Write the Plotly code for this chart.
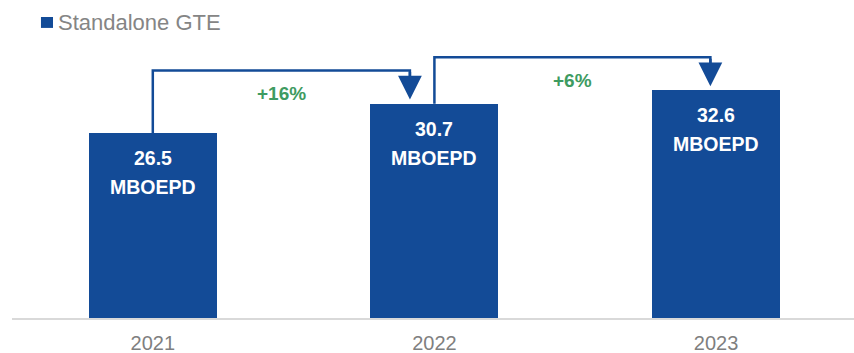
import plotly.graph_objects as go

# Standalone GTE production by year (MBOEPD)
years = ["2021", "2022", "2023"]
production = [26.5, 30.7, 32.6]
unit_label = "MBOEPD"
series_name = "Standalone GTE"

BLUE = "#134B97"
GREEN = "#3E9B61"
GREY_TEXT = "#858585"
FONT = "Arial, Liberation Sans, sans-serif"

positions = list(range(len(years)))

fig = go.Figure()
fig.add_trace(go.Bar(
    x=positions, y=production, width=0.455,
    marker=dict(color=BLUE, line=dict(width=0)),
    name=series_name, showlegend=False, hoverinfo="skip",
))

annotations = []

# value + unit labels inside the top of each bar
for xpos, val in zip(positions, production):
    annotations.append(dict(
        x=xpos, y=val, xref="x", yref="y", text=f"<b>{val:.1f}</b>",
        showarrow=False, yanchor="middle", yshift=-25,
        font=dict(family=FONT, size=19.5, color="white"),
    ))
    annotations.append(dict(
        x=xpos, y=val, xref="x", yref="y", text=f"<b>{unit_label}</b>",
        showarrow=False, yanchor="middle", yshift=-54,
        font=dict(family=FONT, size=19.5, color="white"),
    ))

# elbow connectors showing year-over-year growth
bracket_rise = 4.75        # height of connector above the taller bar
end_inset = [0.087, 0.02]  # how far the arrow lands left of the next bar's centre
tip_gap = 0.6              # gap between arrow tip and bar top
for i in range(len(production) - 1):
    v0, v1 = production[i], production[i + 1]
    top = max(v0, v1) + bracket_rise
    x0 = positions[i]
    x1 = positions[i + 1] - end_inset[i]
    tip = v1 + tip_gap
    fig.add_trace(go.Scatter(
        x=[x0, x0, x1, x1], y=[v0, top, top, tip + 2.0],
        mode="lines", line=dict(color=BLUE, width=2.5),
        showlegend=False, hoverinfo="skip",
    ))
    annotations.append(dict(
        x=x1, y=tip, ax=x1, ay=top, xref="x", yref="y", axref="x", ayref="y",
        text="", showarrow=True, arrowhead=2, arrowsize=1.9, arrowwidth=2.5,
        arrowcolor=BLUE, standoff=0, startstandoff=0,
    ))
    growth = (v1 / v0 - 1) * 100
    annotations.append(dict(
        x=(x0 + x1) / 2, y=top, xref="x", yref="y",
        text=f"<b>+{growth:.0f}%</b>", showarrow=False,
        yanchor="middle", yshift=-23,
        font=dict(family=FONT, size=19, color=GREEN),
    ))

# legend label
annotations.append(dict(
    x=0.0523, y=1.057, xref="paper", yref="paper", text=series_name,
    showarrow=False, xanchor="left", yanchor="middle",
    font=dict(family=FONT, size=22, color=GREY_TEXT),
))

fig.update_layout(
    width=854, height=353,
    margin=dict(l=12, r=0, t=38, b=35),
    paper_bgcolor="white", plot_bgcolor="white",
    bargap=0,
    annotations=annotations,
    shapes=[dict(
        type="rect", xref="paper", yref="paper",
        x0=0.0344, x1=0.0487, y0=1.036, y1=1.075,
        fillcolor=BLUE, line=dict(width=0),
    )],
    xaxis=dict(
        range=[-0.5, 2.49], tickmode="array", tickvals=positions, ticktext=years,
        showgrid=False, zeroline=False, showline=True,
        linecolor="#d9d9d9", linewidth=2, ticks="", ticklabelstandoff=6,
        tickfont=dict(family=FONT, size=20, color="#7f7f7f"),
    ),
    yaxis=dict(
        range=[0, 40.1], visible=False, showgrid=False, zeroline=False,
    ),
)

fig.write_html("out.html", config={"displayModeBar": False})
